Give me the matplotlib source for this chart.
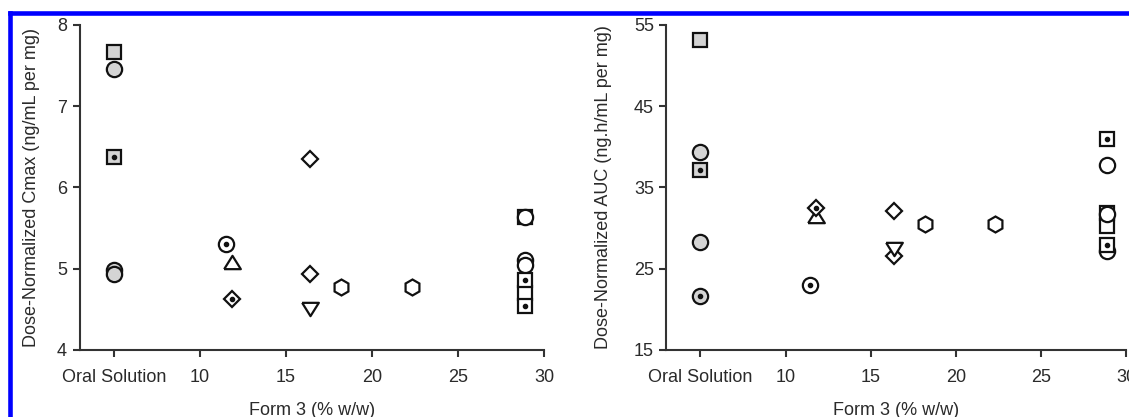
import numpy as np
import matplotlib
matplotlib.use("Agg")
import matplotlib.pyplot as plt
from matplotlib.lines import Line2D

plt.rcParams['font.family'] = ['Liberation Sans', 'DejaVu Sans']

# x ticks and labels (both panels)
x_ticks = [5, 10, 15, 20, 25, 30]
x_tick_labels = ["Oral Solution", "10", "15", "20", "25", "30"]

# ---- Dose-normalized Cmax (left panel) ----
cmax_gray_square_x = [5]
cmax_gray_square_y = [7.66]
cmax_gray_sqdot_x = [5]
cmax_gray_sqdot_y = [6.37]
cmax_gray_circdot_x = [5]
cmax_gray_circdot_y = [4.98]
cmax_gray_circle_x = [5, 5]
cmax_gray_circle_y = [7.46, 4.94]
cmax_circdot_x = [11.5]
cmax_circdot_y = [5.30]
cmax_tri_up_x = [11.85]
cmax_tri_up_y = [5.08]
cmax_diadot_x = [11.85]
cmax_diadot_y = [4.63]
cmax_diamond_x = [16.4, 16.4]
cmax_diamond_y = [6.35, 4.93]
cmax_tri_down_x = [16.4]
cmax_tri_down_y = [4.50]
cmax_hexagon_x = [18.2, 22.3]
cmax_hexagon_y = [4.77, 4.77]
cmax_square_x = [28.9, 28.9]
cmax_square_y = [5.63, 4.70]
cmax_circle_x = [28.9, 28.9, 28.9]
cmax_circle_y = [5.63, 5.11, 5.04]
cmax_sqdot_x = [28.9, 28.9]
cmax_sqdot_y = [4.86, 4.54]

# ---- Dose-normalized AUC (right panel) ----
auc_gray_square_x = [5]
auc_gray_square_y = [53.1]
auc_gray_sqdot_x = [5]
auc_gray_sqdot_y = [37.1]
auc_gray_circdot_x = [5]
auc_gray_circdot_y = [21.6]
auc_gray_circle_x = [5, 5]
auc_gray_circle_y = [39.3, 28.3]
auc_circdot_x = [11.45]
auc_circdot_y = [23.0]
auc_tri_up_x = [11.8]
auc_tri_up_y = [31.5]
auc_diadot_x = [11.8]
auc_diadot_y = [32.5]
auc_diamond_x = [16.4, 16.4]
auc_diamond_y = [32.1, 26.6]
auc_tri_down_x = [16.4]
auc_tri_down_y = [27.4]
auc_hexagon_x = [18.2, 22.3]
auc_hexagon_y = [30.5, 30.5]
auc_square_x = [28.9, 28.9]
auc_square_y = [31.9, 30.3]
auc_circle_x = [28.9, 28.9, 28.9]
auc_circle_y = [37.7, 31.7, 27.2]
auc_sqdot_x = [28.9, 28.9]
auc_sqdot_y = [40.9, 27.9]

GRAY = '#d4d4d4'
EDGE = '#111111'
tri_up = [(-1, -0.8), (1, -0.8), (0, 0.8), (-1, -0.8)]
tri_down = [(-1, 0.8), (1, 0.8), (0, -0.8), (-1, 0.8)]

# marker styles: (marker, size, fill, dot)
styles = {
    'gray_square': ('s', 10, GRAY, False),
    'gray_sqdot': ('s', 10, GRAY, True),
    'gray_circdot': ('o', 11, GRAY, True),
    'gray_circle': ('o', 11, GRAY, False),
    'circdot': ('o', 11, 'white', True),
    'tri_up': (tri_up, 12, 'white', False),
    'diadot': ('D', 8.6, 'white', True),
    'diamond': ('D', 8.6, 'white', False),
    'tri_down': (tri_down, 12, 'white', False),
    'hexagon': ('h', 11.5, 'white', False),
    'square': ('s', 10, 'white', False),
    'circle': ('o', 11, 'white', False),
    'sqdot': ('s', 10, 'white', True),
}


def draw_panel(ax, prefix, ylim, yticks, ylabel):
    g = globals()
    for key, (mk, ms, fc, dot) in styles.items():
        xs = g[prefix + key + '_x']
        ys = g[prefix + key + '_y']
        ax.plot(xs, ys, linestyle='none', marker=mk, markersize=ms,
                markerfacecolor=fc, markeredgecolor=EDGE, markeredgewidth=1.6,
                clip_on=False)
        if dot:
            ax.plot(xs, ys, linestyle='none', marker='o', markersize=3,
                    color=EDGE, clip_on=False)
    ax.set_xlim(3, 30)
    ax.set_ylim(*ylim)
    ax.set_xticks(x_ticks)
    ax.set_xticklabels(x_tick_labels)
    ax.set_yticks(yticks)
    for s in ['top', 'right']:
        ax.spines[s].set_visible(False)
    for s in ['left', 'bottom']:
        ax.spines[s].set_linewidth(1.5)
        ax.spines[s].set_color('#333333')
    ax.tick_params(direction='out', length=5, width=1.5, color='#333333',
                   labelsize=13, labelcolor='#2a2a2a')
    ax.tick_params(axis='x', pad=9)
    ax.tick_params(axis='y', pad=4)
    ax.set_xlabel('Form 3 (% w/w)', fontsize=13, color='#2a2a2a', labelpad=11)
    ax.set_ylabel(ylabel, fontsize=13, color='#2a2a2a', labelpad=16)


fig = plt.figure(figsize=(11.29, 4.17), dpi=100)
ax1 = fig.add_axes([0.0705, 0.1607, 0.4113, 0.7800])
ax2 = fig.add_axes([0.5903, 0.1607, 0.4070, 0.7800])

draw_panel(ax1, 'cmax_', (4, 8), [4, 5, 6, 7, 8],
           'Dose-Normalized Cmax (ng/mL per mg)')
draw_panel(ax2, 'auc_', (15, 55), [15, 25, 35, 45, 55],
           'Dose-Normalized AUC (ng.h/mL per mg)')
ax1.yaxis.labelpad = 12

# blue frame
fig.add_artist(Line2D([0.0091, 1.0], [0.9694, 0.9694], color='#0000ff',
                      linewidth=3.3, transform=fig.transFigure))
fig.add_artist(Line2D([0.0091, 0.0091], [0.0, 0.9694], color='#0000ff',
                      linewidth=3.3, transform=fig.transFigure))

fig.savefig('out.png', dpi=100)
